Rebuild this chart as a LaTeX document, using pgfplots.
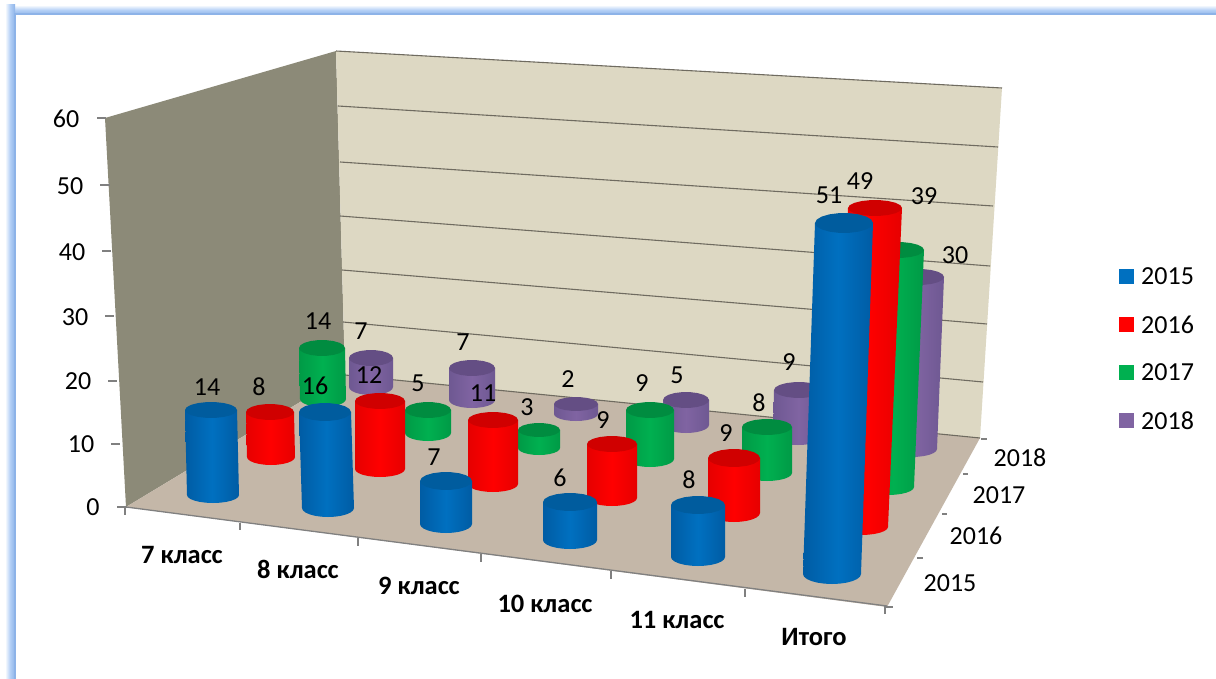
\documentclass[border=0pt]{standalone}
\usepackage{pgfplots}
\usepackage{pgfplotstable}
\usepackage{fontspec}
\setmainfont{Carlito}
\pgfplotsset{compat=1.18}
\definecolor{cB}{HTML}{0070C0}\definecolor{cBe}{HTML}{005CA4}\definecolor{cBc}{HTML}{005C9E}
\definecolor{cR}{HTML}{FF0000}\definecolor{cRe}{HTML}{E60000}\definecolor{cRc}{HTML}{D00000}
\definecolor{cG}{HTML}{00B050}\definecolor{cGe}{HTML}{009A46}\definecolor{cGc}{HTML}{008C40}
\definecolor{cP}{HTML}{8064A2}\definecolor{cPe}{HTML}{6E5892}\definecolor{cPc}{HTML}{644E84}
\definecolor{wallL}{HTML}{8C8A78}\definecolor{wallB}{HTML}{DDD8C3}\definecolor{floorC}{HTML}{C4B7A8}
\definecolor{gridC}{HTML}{6F6B60}\definecolor{tickC}{HTML}{808080}
\definecolor{bandC}{HTML}{B4D0F6}\definecolor{bandL}{HTML}{8DB3E8}
% data labels: screen position and value
\pgfplotstableread{
x y v
207 387 14
259 387 8
318 321 14
361 331 7
315 386 16
369 375 12
418 383 5
463 342 7
483 393 11
434 457 7
568 379 2
527 407 3
603 420 9
642 383 9
677 375 5
789 362 9
759 403 8
726 433 9
560 478 6
689 480 8
829 195 51
860 181 49
924 196 39
955 255 30
}\labels
% #1 colour stem, #2 value, #3 x top, #4 x bottom, #5 y top of cap, #6 lowest y, #7 rx, #8 ry
\newcommand\cyl[8]{%
  \pgfmathsetmacro\yt{#5+#8}%
  \pgfmathsetmacro\yb{#6-#8}%
  \gdef\pts{}%
  \foreach \a in {180,165,...,0}{%
    \pgfmathsetmacro\X{#4+#7*cos(\a)}%
    \pgfmathsetmacro\Y{\yb+#8*sin(\a)}%
    \xdef\pts{\pts (\X,\Y)}%
  }%
  \pgfmathsetmacro\Xa{#3+#7}\pgfmathsetmacro\Xb{#3-#7}%
  \xdef\pts{\pts (\Xa,\yt) (\Xb,\yt)}%
  \edef\tmp{\noexpand\addplot[draw=none,forget plot,left color=#1e,right color=#1e,middle color=#1] coordinates {\pts};}\tmp
  \gdef\pts{}%
  \foreach \a in {0,20,...,340}{%
    \pgfmathsetmacro\X{#3+#7*cos(\a)}%
    \pgfmathsetmacro\Y{\yt+#8*sin(\a)}%
    \xdef\pts{\pts (\X,\Y)}%
  }%
  \edef\tmp{\noexpand\addplot[draw=none,forget plot,fill=#1c] coordinates {\pts};}\tmp
}
\newcommand\glin[4]{\addplot[gridC,line width=1.1pt,forget plot] coordinates {(#1,#2) (#3,#4)};}
\newcommand\tck[4]{\addplot[tickC,line width=1.3pt,forget plot] coordinates {(#1,#2) (#3,#4)};}
\newcommand\lgd[4]{%
  \addplot[draw=none,fill=#1,forget plot] coordinates {(1119,#2) (1134,#2) (1134,#3) (1119,#3)};%
  \node[anchor=west,inner sep=0pt,font=\tx] at (axis cs:1141,#2/2+#3/2) {#4};%
}
\newcommand\tx{\fontsize{26}{30}\selectfont}
\newcommand\cat{\fontsize{26.5}{30}\selectfont\bfseries}
\begin{document}
\begin{tikzpicture}
\begin{axis}[scale only axis,width=1216pt,height=679pt,xmin=0,xmax=1216,ymin=0,ymax=679,
  y dir=reverse,axis lines=none,clip=true]
\addplot[draw=none,fill=white,forget plot] coordinates {(0,0) (1216,0) (1216,679) (0,679)};
% frame
\addplot[draw=none,forget plot,top color=white,bottom color=bandL,middle color=bandC] coordinates {(5,5) (1216,5) (1216,15) (5,15)};
\addplot[draw=none,forget plot,left color=white,right color=bandL,middle color=bandC] coordinates {(5,5) (15,5) (15,679) (5,679)};
\addplot[bandL,line width=2pt,forget plot] coordinates {(15,679) (15,14) (1216,14)};
% walls and floor
\addplot[draw=none,fill=wallL,forget plot] coordinates {(105,118) (336,51) (345,375) (126,507)};
\addplot[draw=none,fill=wallB,forget plot] coordinates {(336,51) (1002,88) (980,438) (345,375)};
\addplot[draw=none,fill=floorC,forget plot] coordinates {(126,507) (345,375) (980,438) (887,607)};
% gridlines
\glin{336}{51}{1002}{88}
\glin{338}{106}{998}{147}
\glin{340}{162}{993}{206}
\glin{340}{216}{990}{266}
\glin{342}{270}{987}{324}
\glin{343}{322}{983}{382}
\glin{345}{375}{980}{438}
% ticks
\tck{97}{118}{106}{118}
\tck{100}{185}{110}{185}
\tck{102}{251}{111}{251}
\tck{105}{316}{114}{316}
\tck{108}{381}{117}{381}
\tck{111}{444}{120}{444}
\tck{117}{507}{127}{507}
\tck{126}{507}{887}{606}
\tck{125}{508}{125}{515}
\tck{240}{523}{240}{530}
\tck{358}{538}{358}{546}
\tck{481}{554}{481}{562}
\tck{611}{571}{611}{579}
\tck{745}{589}{745}{597}
\tck{885}{606}{885}{614}
\tck{885}{607}{893}{607}
\tck{917}{558}{923}{558}
\tck{942}{514}{947}{514}
\tck{963}{474}{968}{474}
\tck{981}{439}{987}{439}
% 2018
\cyl{cP}{7}{371}{371}{350}{395}{22}{8}
\cyl{cP}{7}{472}{472}{360}{408}{23}{8}
\cyl{cP}{2}{576}{576}{397}{421}{22}{7}
\cyl{cP}{5}{686}{686}{392}{433}{23}{8}
\cyl{cP}{9}{799}{798}{382}{445}{25}{8}
\cyl{cP}{30}{919}{912}{269}{457}{25}{8}
% 2017
\cyl{cG}{14}{322}{323}{340}{407}{23}{8}
\cyl{cG}{5}{428}{428}{402}{441}{23}{8}
\cyl{cG}{3}{539}{539}{423}{455}{21}{7}
\cyl{cG}{9}{650}{650}{402}{467}{24}{8}
\cyl{cG}{8}{767}{767}{419}{481}{25}{8}
\cyl{cG}{39}{898}{888}{242}{495}{26}{8}
% 2016
\cyl{cR}{8}{270}{271}{404}{465}{24}{8}
\cyl{cR}{12}{380}{380}{393}{477}{25}{8}
\cyl{cR}{11}{493}{493}{412}{492}{25}{8}
\cyl{cR}{9}{612}{612}{436}{506}{25}{8}
\cyl{cR}{9}{734}{734}{449}{522}{26}{9}
\cyl{cR}{49}{875}{861}{200}{535}{27}{8}
% 2015
\cyl{cB}{14}{211}{213}{402}{503}{26}{8}
\cyl{cB}{16}{325}{328}{403}{517}{26}{9}
\cyl{cB}{7}{446}{446}{472}{533}{26}{9}
\cyl{cB}{6}{570}{570}{493}{549}{27}{9}
\cyl{cB}{8}{698}{698}{496}{566}{27}{9}
\cyl{cB}{51}{844}{832}{213}{584}{29}{10}
% data labels
\addplot[only marks,mark=none,forget plot,point meta=explicit symbolic,nodes near coords,
  nodes near coords style={anchor=center,inner sep=0pt,text=black,font=\tx}]
  table[x=x,y=y,meta=v] {\labels};
% value axis labels
\node[font=\tx,inner sep=0pt] at (axis cs:66,119) {60};
\node[font=\tx,inner sep=0pt] at (axis cs:70,186) {50};
\node[font=\tx,inner sep=0pt] at (axis cs:72,252) {40};
\node[font=\tx,inner sep=0pt] at (axis cs:75,317) {30};
\node[font=\tx,inner sep=0pt] at (axis cs:78,381) {20};
\node[font=\tx,inner sep=0pt] at (axis cs:81,444) {10};
\node[font=\tx,inner sep=0pt] at (axis cs:93,507) {0};
% category labels
\node[font=\cat,inner sep=0pt] at (axis cs:182,555) {7 класс};
\node[font=\cat,inner sep=0pt] at (axis cs:298,569) {8 класс};
\node[font=\cat,inner sep=0pt] at (axis cs:419,586) {9 класс};
\node[font=\cat,inner sep=0pt] at (axis cs:545,604) {10 класс};
\node[font=\cat,inner sep=0pt] at (axis cs:677,620) {11 класс};
\node[font=\cat,inner sep=0pt] at (axis cs:814,637) {Итого};
% depth labels
\node[font=\tx,inner sep=0pt] at (axis cs:950,583) {2015};
\node[font=\tx,inner sep=0pt] at (axis cs:976,536) {2016};
\node[font=\tx,inner sep=0pt] at (axis cs:999,495) {2017};
\node[font=\tx,inner sep=0pt] at (axis cs:1020,458) {2018};
% legend
\lgd{cB}{269}{284}{2015}
\lgd{cR}{317}{332}{2016}
\lgd{cG}{365}{380}{2017}
\lgd{cP}{413}{428}{2018}
\end{axis}
\end{tikzpicture}
\end{document}
